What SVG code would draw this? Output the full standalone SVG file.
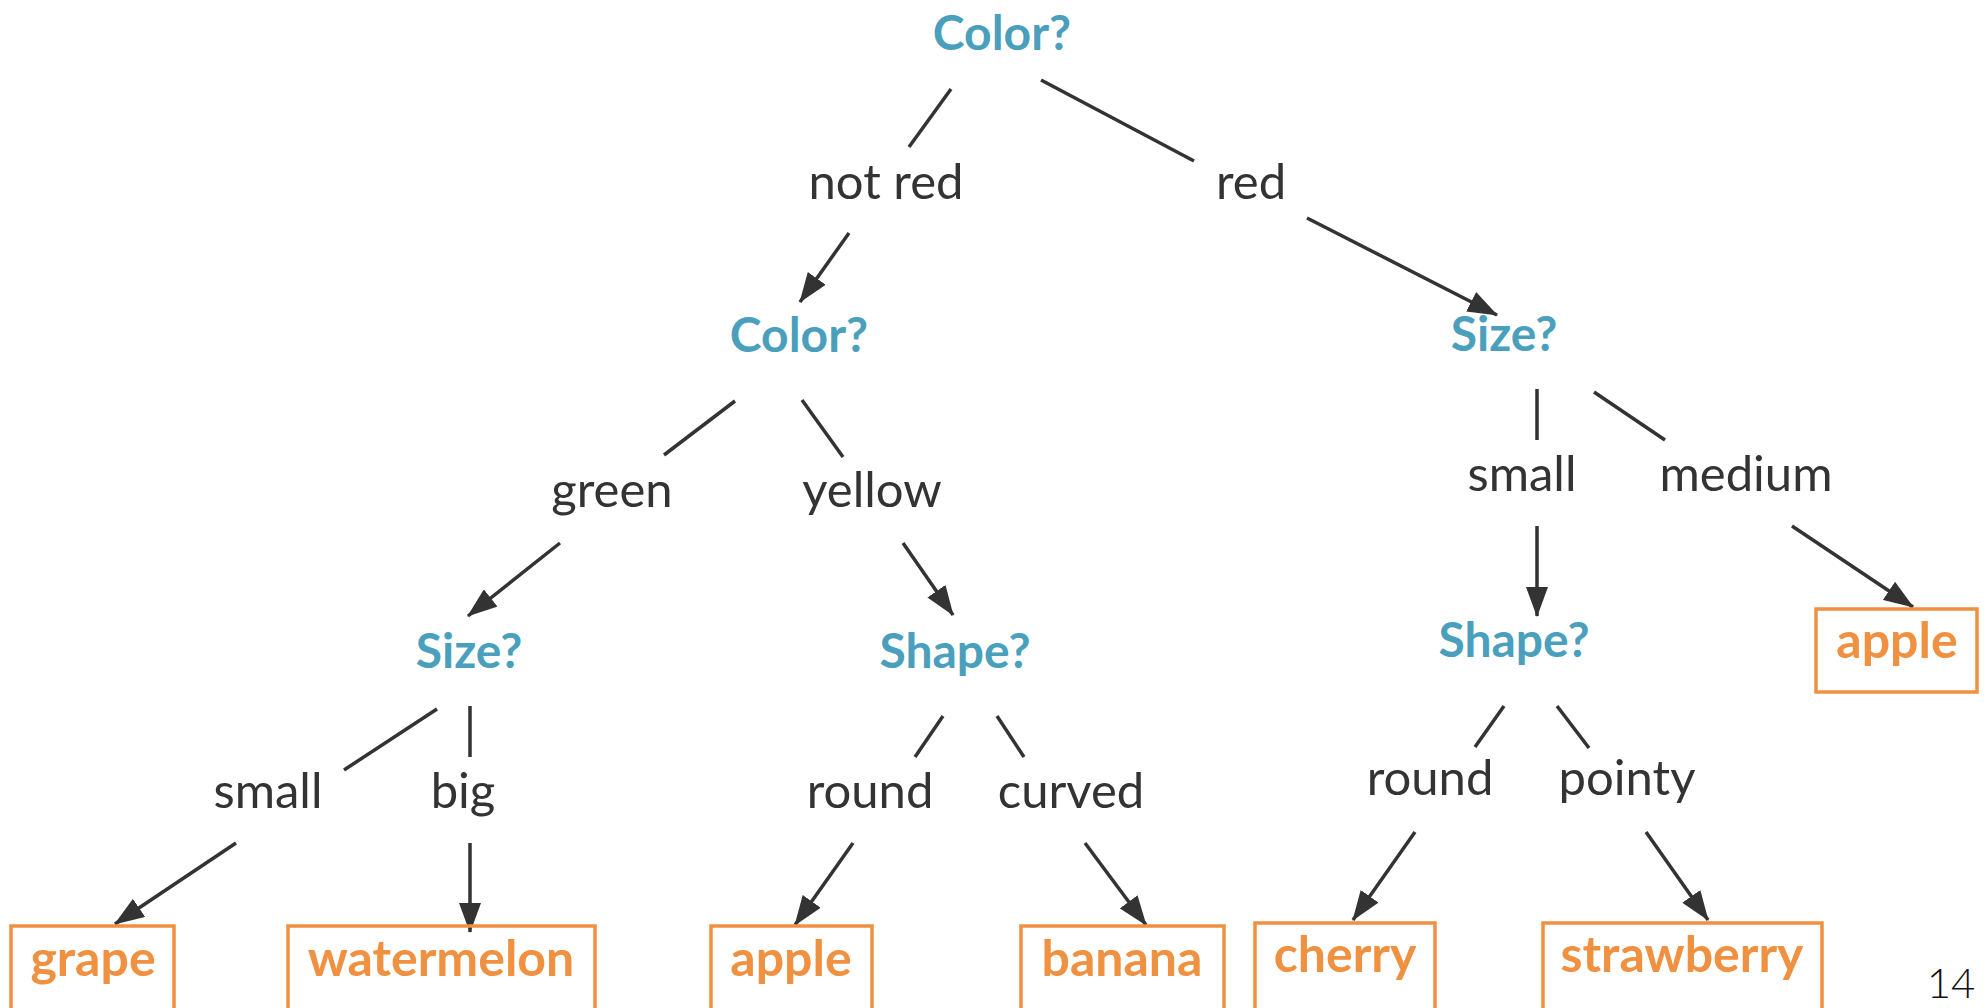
<svg xmlns="http://www.w3.org/2000/svg" width="1988" height="1008" viewBox="0 0 1988 1008">
<defs>
<marker id="arr" viewBox="0 0 30 22" refX="29" refY="11" markerWidth="30" markerHeight="22" markerUnits="userSpaceOnUse" orient="auto">
<path d="M0,0 L30,11 L0,22 z" fill="#333333"/>
</marker>
<style>
.q{font-family:Lato,"Open Sans",sans-serif;font-weight:bold;font-size:48px;fill:#4A9FBD;text-anchor:middle}
.l{font-family:Lato,"Open Sans",sans-serif;font-size:49px;fill:#333333;text-anchor:middle}
.f{font-family:Lato,"Open Sans",sans-serif;font-weight:bold;font-size:50px;fill:#EF9140;text-anchor:middle}
.box{fill:none;stroke:#EF9140;stroke-width:3.5}
.c line{stroke:#333333;stroke-width:3.5}
.c line.a{marker-end:url(#arr)}
.pg{font-family:Lato,sans-serif;font-weight:300;font-size:42px;fill:#111111;text-anchor:middle}
</style>
</defs>
<rect width="1988" height="1008" fill="#FFFFFF"/>
<g class="c" id="connectors">
<line x1="951" y1="89" x2="909" y2="147"/>
<line x1="1041" y1="80" x2="1194" y2="161"/>
<line class="a" x1="849" y1="233" x2="800" y2="302"/>
<line class="a" x1="1307" y1="218" x2="1497" y2="315"/>
<line x1="735" y1="401" x2="664" y2="455"/>
<line x1="802" y1="400" x2="843" y2="457"/>
<line class="a" x1="560" y1="543" x2="468" y2="616"/>
<line class="a" x1="903" y1="543" x2="953" y2="615"/>
<line x1="1537" y1="389" x2="1537" y2="440"/>
<line x1="1594" y1="392" x2="1665" y2="440"/>
<line class="a" x1="1537" y1="526" x2="1537" y2="616"/>
<line class="a" x1="1792" y1="526" x2="1913" y2="607"/>
<line x1="437" y1="709" x2="344" y2="770"/>
<line x1="470" y1="706" x2="470" y2="757"/>
<line class="a" x1="236" y1="843" x2="115" y2="924"/>
<line class="a" x1="470" y1="843" x2="470" y2="932"/>
<line x1="943" y1="716" x2="915" y2="757"/>
<line x1="997" y1="716" x2="1024" y2="757"/>
<line class="a" x1="853" y1="843" x2="795" y2="925"/>
<line class="a" x1="1085" y1="843" x2="1146" y2="925"/>
<line x1="1504" y1="706" x2="1475" y2="747"/>
<line x1="1557" y1="706" x2="1589" y2="748"/>
<line class="a" x1="1415" y1="832" x2="1353" y2="920"/>
<line class="a" x1="1646" y1="832" x2="1708" y2="920"/>
</g>
<g id="q-color-root"><text class="q" x="1002" y="50">Color?</text></g>
<g id="l-not-red"><text class="l" x="886" y="199">not red</text></g>
<g id="l-red"><text class="l" x="1251" y="199">red</text></g>
<g id="q-color-2"><text class="q" x="799" y="352">Color?</text></g>
<g id="q-size-right"><text class="q" x="1504" y="351">Size?</text></g>
<g id="l-green"><text class="l" x="612" y="507">green</text></g>
<g id="l-yellow"><text class="l" x="872" y="507">yellow</text></g>
<g id="l-small-right"><text class="l" x="1522" y="491">small</text></g>
<g id="l-medium"><text class="l" x="1746" y="491">medium</text></g>
<g id="q-size-left"><text class="q" x="469" y="668">Size?</text></g>
<g id="q-shape-mid"><text class="q" x="955" y="668">Shape?</text></g>
<g id="q-shape-right"><text class="q" x="1514" y="657">Shape?</text></g>
<g id="leaf-apple-right"><rect class="box" x="1816" y="609" width="161" height="83"/><text class="f" x="1897" y="658">apple</text></g>
<g id="l-small-left"><text class="l" x="268" y="808">small</text></g>
<g id="l-big"><text class="l" x="463" y="808">big</text></g>
<g id="l-round-mid"><text class="l" x="870" y="808">round</text></g>
<g id="l-curved"><text class="l" x="1071" y="808">curved</text></g>
<g id="l-round-right"><text class="l" x="1430" y="795">round</text></g>
<g id="l-pointy"><text class="l" x="1627" y="795">pointy</text></g>
<g id="leaf-grape"><rect class="box" x="11" y="926" width="163" height="110"/><text class="f" x="93" y="976">grape</text></g>
<g id="leaf-watermelon"><rect class="box" x="288" y="926" width="307" height="110"/><text class="f" x="441" y="976">watermelon</text></g>
<g id="leaf-apple-mid"><rect class="box" x="711" y="926" width="161" height="110"/><text class="f" x="791" y="976">apple</text></g>
<g id="leaf-banana"><rect class="box" x="1021" y="926" width="203" height="110"/><text class="f" x="1122" y="976">banana</text></g>
<g id="leaf-cherry"><rect class="box" x="1255" y="923" width="180" height="110"/><text class="f" x="1345" y="972">cherry</text></g>
<g id="leaf-strawberry"><rect class="box" x="1543" y="923" width="279" height="110"/><text class="f" x="1682" y="972">strawberry</text></g>
<g id="page-number"><text class="pg" x="1951" y="998">14</text></g>
</svg>
